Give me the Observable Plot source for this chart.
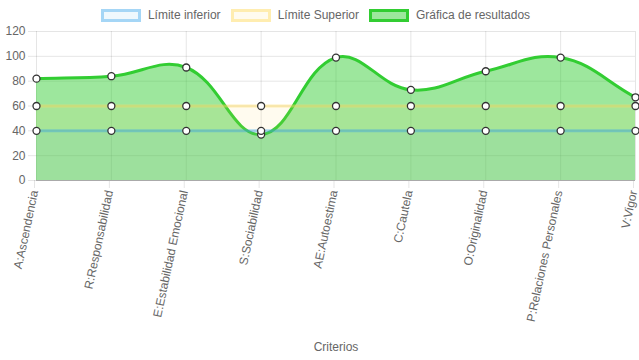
<!DOCTYPE html>
<html>
<head>
<meta charset="utf-8">
<script src="https://cdn.jsdelivr.net/npm/d3@7"></script>
<script src="https://cdn.jsdelivr.net/npm/@observablehq/plot@0.6"></script>
<style>
  body { margin: 0; background: #fff; font-family: "Liberation Sans", Arial, Helvetica, sans-serif; }
  #wrap { position: relative; width: 639px; height: 360px; }
  #legend { position: absolute; top: 8px; left: -4px; width: 639px; display: flex; justify-content: center; align-items: center; font-size: 12px; color: #666; }
  .item { display: flex; align-items: center; margin: 0 5px; }
  .box { width: 40px; height: 13px; box-sizing: border-box; border: 3px solid; margin-right: 7px; }
</style>
</head>
<body>
<div id="wrap">
  <div id="chart"></div>
  <div id="legend"></div>
</div>
<script>
const categories = ["A:Ascendencia", "R:Responsabilidad", "E:Estabilidad Emocional", "S:Sociabilidad", "AE:Autoestima", "C:Cautela", "O:Originalidad", "P:Relaciones Personales", "V:Vigor"];
const limiteInferior = [40, 40, 40, 40, 40, 40, 40, 40, 40];
const limiteSuperior = [60, 60, 60, 60, 60, 60, 60, 60, 60];
const resultados = [82, 84, 91, 37, 99, 73, 88, 99, 67];
const yTicks = [0, 20, 40, 60, 80, 100, 120];

const series = [
  {name: "Límite inferior", values: limiteInferior, stroke: "rgba(54,162,235,0.4)", fill: "rgba(54,162,235,0.08)"},
  {name: "Límite Superior", values: limiteSuperior, stroke: "rgba(255,220,100,0.45)", fill: "rgba(255,220,100,0.1)"},
  {name: "Gráfica de resultados", values: resultados, stroke: "rgb(50,205,50)", fill: "rgba(50,205,50,0.48)"}
];

// Chart.js-style bezier spline (tension 0.4)
class ChartJsSpline {
  constructor(ctx, t) { this._context = ctx; this._t = t; }
  areaStart() { this._line = 0; }
  areaEnd() { this._line = NaN; }
  lineStart() { this._pts = []; }
  point(x, y) { this._pts.push([+x, +y]); }
  lineEnd() {
    const p = this._pts, n = p.length, c = this._context, t = this._t;
    if (n) {
      if (this._line) c.lineTo(p[0][0], p[0][1]); else c.moveTo(p[0][0], p[0][1]);
      const cp = [];
      for (let i = 0; i < n; i++) {
        const prev = p[Math.max(0, i - 1)], cur = p[i], next = p[Math.min(n - 1, i + 1)];
        const d01 = Math.hypot(cur[0] - prev[0], cur[1] - prev[1]);
        const d12 = Math.hypot(next[0] - cur[0], next[1] - cur[1]);
        let s01 = d01 / (d01 + d12), s12 = d12 / (d01 + d12);
        if (!isFinite(s01)) s01 = 0;
        if (!isFinite(s12)) s12 = 0;
        const fa = t * s01, fb = t * s12;
        cp.push([
          [cur[0] - fa * (next[0] - prev[0]), cur[1] - fa * (next[1] - prev[1])],
          [cur[0] + fb * (next[0] - prev[0]), cur[1] + fb * (next[1] - prev[1])]
        ]);
      }
      for (let i = 1; i < n; i++) {
        c.bezierCurveTo(cp[i - 1][1][0], cp[i - 1][1][1], cp[i][0][0], cp[i][0][1], p[i][0], p[i][1]);
      }
    }
    if (this._line || (this._line !== 0 && n === 1)) c.closePath();
    this._line = 1 - this._line;
  }
}
const chartjsCurve = (ctx) => new ChartJsSpline(ctx, 0.4);

const tables = series.map(s => categories.map((c, i) => ({cat: c, v: s.values[i]})));

const marks = [
  Plot.gridY(yTicks, {stroke: "#000", strokeOpacity: 0.1}),
  Plot.gridX(categories, {stroke: "#000", strokeOpacity: 0.1}),
  Plot.axisY(yTicks, {tickSize: 8, tickPadding: 3, fontSize: 12, fill: "#666", stroke: "#000", strokeOpacity: 0.1, label: null}),
  Plot.axisX(categories, {tickSize: 8, tickPadding: 2, tickRotate: -78, fontSize: 12, fill: "#666", stroke: "#000", strokeOpacity: 0.1, label: null, dx: -2}),
  Plot.ruleY([0], {stroke: "#aaa"})
];
// Draw order like Chart.js: last dataset first
for (let k = series.length - 1; k >= 0; k--) {
  const s = series[k], d = tables[k];
  marks.push(Plot.areaY(d, {x: "cat", y: "v", curve: chartjsCurve, fill: s.fill}));
  marks.push(Plot.lineY(d, {x: "cat", y: "v", curve: chartjsCurve, stroke: s.stroke, strokeWidth: 3}));
}
for (let k = series.length - 1; k >= 0; k--) {
  marks.push(Plot.dot(tables[k], {x: "cat", y: "v", r: 3.5, fill: "#fff", stroke: "#333", strokeWidth: 1.3}));
}
marks.push(Plot.text(["Criterios"], {frameAnchor: "bottom", dy: 167, fontSize: 12, fill: "#666", lineAnchor: "middle"}));

const chart = Plot.plot({
  width: 639,
  height: 360,
  marginLeft: 36,
  marginRight: 4,
  marginTop: 31,
  marginBottom: 180,
  style: {fontFamily: '"Liberation Sans", Arial, Helvetica, sans-serif', fontSize: "12px", color: "#666", background: "#fff"},
  x: {type: "point", domain: categories, padding: 0, round: false},
  y: {domain: [0, 120]},
  marks
});
document.getElementById("chart").appendChild(chart);

const legend = document.getElementById("legend");
series.forEach(s => {
  const item = document.createElement("div");
  item.className = "item";
  const box = document.createElement("div");
  box.className = "box";
  box.style.borderColor = s.stroke;
  box.style.background = s.fill;
  const label = document.createElement("span");
  label.textContent = s.name;
  item.appendChild(box);
  item.appendChild(label);
  legend.appendChild(item);
});
</script>
</body>
</html>
